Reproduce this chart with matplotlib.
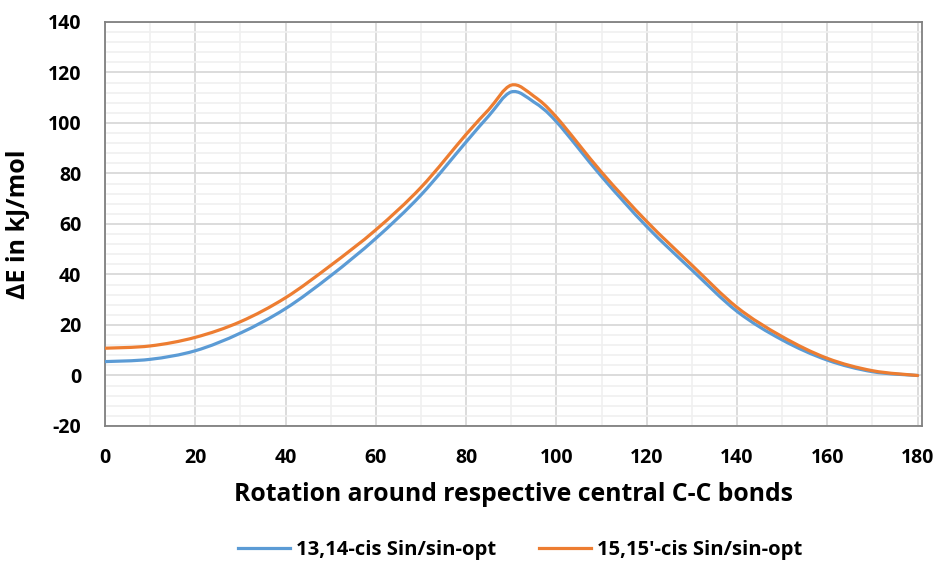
import matplotlib
matplotlib.use("Agg")
import matplotlib.pyplot as plt
from matplotlib.path import Path
from matplotlib.patches import PathPatch
from matplotlib.lines import Line2D
from matplotlib.ticker import MultipleLocator

plt.rcParams["axes.unicode_minus"] = False

angles = [0, 10, 20, 30, 40, 50, 60, 70, 80, 85, 90, 95, 100, 110, 120, 130, 140, 150, 160, 170, 180]
cis_13_14 = [5.5, 6.4, 9.8, 16.8, 26.5, 39.5, 54.3, 71.5, 92.5, 102.8, 112.3, 108.3, 100.5, 78.8, 59.0, 41.8, 25.4, 14.1, 6.1, 1.5, 0.0]
cis_15_15 = [10.8, 11.7, 15.1, 21.3, 30.8, 43.6, 57.7, 74.5, 95.5, 105.3, 115.0, 110.6, 102.3, 80.5, 61.0, 43.7, 27.0, 15.4, 6.8, 1.9, 0.0]
series_labels = ["13,14-cis Sin/sin-opt", "15,15'-cis Sin/sin-opt"]
colors = ["#5B9BD5", "#ED7D31"]

FONT = "Open Sans"

def smooth_path(xs, ys):
    pts = list(zip(xs, ys))
    verts = [pts[0]]
    codes = [Path.MOVETO]
    n = len(pts)
    for i in range(n - 1):
        p0 = pts[i - 1] if i > 0 else pts[i]
        p1 = pts[i]
        p2 = pts[i + 1]
        p3 = pts[i + 2] if i + 2 < n else pts[i + 1]
        c1 = (p1[0] + (p2[0] - p0[0]) / 6.0, p1[1] + (p2[1] - p0[1]) / 6.0)
        c2 = (p2[0] - (p3[0] - p1[0]) / 6.0, p2[1] - (p3[1] - p1[1]) / 6.0)
        verts += [c1, c2, p2]
        codes += [Path.CURVE4] * 3
    return Path(verts, codes)

fig = plt.figure(figsize=(9.39, 5.62), dpi=100)
ax = fig.add_axes([0.1118, 0.242, 0.8702, 0.7189])

ax.set_xlim(0, 181)
ax.set_ylim(-20, 140)
ax.xaxis.set_major_locator(MultipleLocator(20))
ax.xaxis.set_minor_locator(MultipleLocator(10))
ax.yaxis.set_major_locator(MultipleLocator(20))
ax.yaxis.set_minor_locator(MultipleLocator(4))
ax.grid(which="major", color="#D9D9D9", linewidth=1.3, zorder=0)
ax.grid(which="minor", color="#F0F0F0", linewidth=1.2, zorder=0)
ax.set_axisbelow(True)
ax.tick_params(which="both", length=0)
ax.tick_params(axis="x", pad=16)
ax.tick_params(axis="y", pad=17)
for lab in ax.get_xticklabels() + ax.get_yticklabels():
    lab.set_fontfamily(FONT)
    lab.set_fontweight("bold")
    lab.set_fontsize(14)
    lab.set_color("#000000")
for sp in ax.spines.values():
    sp.set_color("#808080")
    sp.set_linewidth(1.3)

handles = []
for ys, lab, col in zip([cis_13_14, cis_15_15], series_labels, colors):
    patch = PathPatch(smooth_path(angles, ys), facecolor="none", edgecolor=col,
                      linewidth=2.3, capstyle="round", joinstyle="round", zorder=3)
    ax.add_patch(patch)
    handles.append(Line2D([0], [0], color=col, linewidth=2.3, label=lab))

ax.set_xlabel("Rotation around respective central C-C bonds", fontfamily=FONT,
              fontweight="bold", fontsize=17.8, labelpad=10)
ax.set_ylabel("\u0394E in kJ/mol", fontfamily=FONT, fontweight="bold", fontsize=18, labelpad=12)

fig.legend(handles=handles, loc="center", bbox_to_anchor=(0.554, 0.022), ncol=2,
           frameon=False, prop={"family": FONT, "weight": "bold", "size": 14.6},
           handlelength=2.55, columnspacing=2.1, handletextpad=0.3)

fig.savefig("out.png", dpi=100, facecolor="white")
